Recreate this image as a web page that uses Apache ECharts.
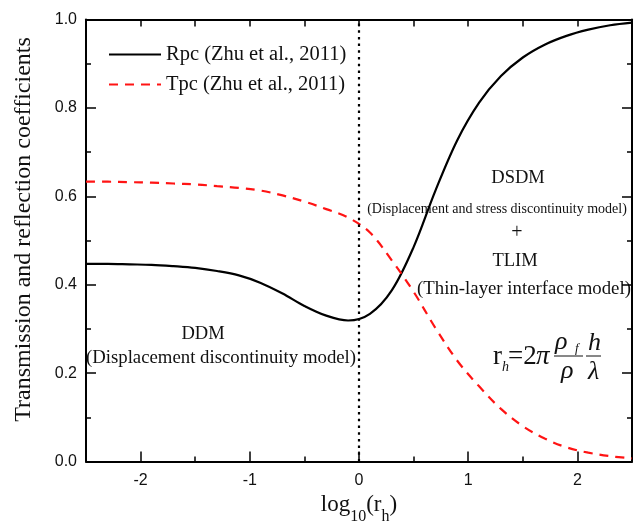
<!DOCTYPE html>
<html>
<head>
<meta charset="utf-8">
<script src="https://cdn.jsdelivr.net/npm/echarts@6/dist/echarts.min.js"></script>
<style>
  html, body { margin: 0; padding: 0; background: #fff; }
  #chart { width: 642px; height: 526px; }
</style>
</head>
<body>
<div id="chart"></div>
<script>
// log10(rh) sample points (evenly spaced, 0.2 apart)
const xVals = [-2.5, -2.3, -2.1, -1.9, -1.7, -1.5, -1.3, -1.1, -0.9, -0.7, -0.5, -0.3, -0.1,
  0.1, 0.3, 0.5, 0.7, 0.9, 1.1, 1.3, 1.5, 1.7, 1.9, 2.1, 2.3, 2.5]
const rpcVals = [0.447, 0.447, 0.446, 0.445, 0.442, 0.438, 0.431, 0.421, 0.404, 0.380, 0.352,
  0.330, 0.319, 0.334, 0.387, 0.485, 0.613, 0.727, 0.812, 0.872, 0.914, 0.943, 0.963,
  0.977, 0.987, 0.993]
const tpcVals = [0.633, 0.633, 0.632, 0.631, 0.629, 0.627, 0.623, 0.619, 0.613, 0.602, 0.588,
  0.571, 0.552, 0.518, 0.455, 0.384, 0.302, 0.228, 0.170, 0.119, 0.080, 0.052, 0.032,
  0.020, 0.012, 0.007]
const xMajorTicks = [-2, -1, 0, 1, 2]
const xMinorTicks = [-1.5, -0.5, 0.5, 1.5]
const boundaryX = 0

const serif = 'Liberation Serif'
const sans = 'Liberation Sans'

const chart = echarts.init(document.getElementById('chart'))

function pairs(ys) {
  return xVals.map(function(x, i) { return [x, ys[i]] })
}

const baseX = { type: 'value', min: -2.5, max: 2.5, splitLine: { show: false } }
const baseY = { type: 'value', min: 0, max: 1, interval: 0.2, splitLine: { show: false } }
const tickLine = { color: '#000', width: 1.5 }

chart.setOption({
  animation: false,
  grid: { left: 86, right: 10, top: 19.5, bottom: 64.5, outerBoundsMode: 'none' },
  legend: {
    orient: 'vertical',
    left: 108,
    top: 44,
    padding: 0,
    itemWidth: 52,
    itemHeight: 14,
    itemGap: 9,
    itemStyle: { opacity: 0 },
    textStyle: { fontFamily: serif, fontSize: 20.5, color: '#111', lineHeight: 20 },
    data: ['Rpc (Zhu et al., 2011)', 'Tpc (Zhu et al., 2011)']
  },
  xAxis: [
    Object.assign({}, baseX, {
      position: 'bottom',
      interval: 0.5,
      axisLine: { onZero: false, lineStyle: { color: '#000', width: 2 } },
      axisTick: { inside: true, length: 10, customValues: xMajorTicks, lineStyle: tickLine },
      axisLabel: { customValues: xMajorTicks, margin: 11, fontFamily: sans, fontSize: 16, color: '#111' },
      name: '{m|log}{s|10}{m|(r}{s|h}{m|)}',
      nameLocation: 'middle',
      nameGap: 27,
      nameTextStyle: {
        fontFamily: serif, fontSize: 23, color: '#111',
        rich: {
          m: { fontFamily: serif, fontSize: 23, lineHeight: 23, padding: [0, 0, 8, 0], verticalAlign: 'bottom', color: '#111' },
          s: { fontFamily: serif, fontSize: 16, lineHeight: 16, verticalAlign: 'bottom', color: '#111' }
        }
      }
    }),
    Object.assign({}, baseX, {
      position: 'bottom',
      interval: 0.5,
      axisLine: { show: false, onZero: false },
      axisTick: { inside: true, length: 5, customValues: xMinorTicks, lineStyle: tickLine },
      axisLabel: { show: false }
    }),
    Object.assign({}, baseX, {
      position: 'top',
      interval: 0.5,
      axisLine: { onZero: false, lineStyle: { color: '#000', width: 2 } },
      axisTick: { inside: true, length: 7, lineStyle: tickLine },
      axisLabel: { show: false }
    })
  ],
  yAxis: [
    Object.assign({}, baseY, {
      position: 'left',
      axisLine: { show: true, onZero: false, lineStyle: { color: '#000', width: 2 } },
      axisTick: { inside: true, length: 10, lineStyle: tickLine },
      minorTick: { show: true, splitNumber: 2, length: 5, lineStyle: tickLine },
      axisLabel: {
        margin: 9, fontFamily: sans, fontSize: 16, color: '#111',
        formatter: function(v) { return v.toFixed(1) }
      }
    }),
    Object.assign({}, baseY, {
      position: 'right',
      axisLine: { show: true, onZero: false, lineStyle: { color: '#000', width: 2 } },
      axisTick: { inside: true, length: 10, lineStyle: tickLine },
      minorTick: { show: true, splitNumber: 2, length: 5, lineStyle: tickLine },
      axisLabel: { show: false }
    })
  ],
  series: [
    {
      name: 'Rpc (Zhu et al., 2011)',
      type: 'line',
      xAxisIndex: 0,
      yAxisIndex: 0,
      data: pairs(rpcVals),
      smooth: 0.35,
      symbol: 'none',
      lineStyle: { color: '#000', width: 2.2 },
      itemStyle: { color: '#000' },
      markLine: {
        silent: true,
        symbol: 'none',
        label: { show: false },
        lineStyle: { color: '#000', width: 2.2, type: [2.5, 4.2] },
        data: [{ xAxis: boundaryX }]
      }
    },
    {
      name: 'Tpc (Zhu et al., 2011)',
      type: 'line',
      xAxisIndex: 0,
      yAxisIndex: 0,
      data: pairs(tpcVals),
      smooth: 0.35,
      symbol: 'none',
      lineStyle: { color: '#ff1414', width: 2.2, type: [9, 7] },
      itemStyle: { color: '#ff1414' }
    }
  ],
  graphic: [
    {
      type: 'text', x: 24, y: 229.5, rotation: Math.PI / 2,
      style: { text: 'Transmission and reflection coefficients', fontFamily: serif, fontSize: 24, fill: '#111', align: 'center', verticalAlign: 'middle' }
    },
    { type: 'text', x: 518, y: 178, style: { text: 'DSDM', fontFamily: serif, fontSize: 18.5, fill: '#111', align: 'center', verticalAlign: 'middle' } },
    { type: 'text', x: 497, y: 209, style: { text: '(Displacement and stress discontinuity model)', fontFamily: serif, fontSize: 14, fill: '#111', align: 'center', verticalAlign: 'middle' } },
    { type: 'text', x: 517, y: 233, style: { text: '+', fontFamily: serif, fontSize: 20, fill: '#111', align: 'center', verticalAlign: 'middle' } },
    { type: 'text', x: 515, y: 261, style: { text: 'TLIM', fontFamily: serif, fontSize: 18.5, fill: '#111', align: 'center', verticalAlign: 'middle' } },
    { type: 'text', x: 524, y: 289, style: { text: '(Thin-layer interface model)', fontFamily: serif, fontSize: 18.8, fill: '#111', align: 'center', verticalAlign: 'middle' } },
    { type: 'text', x: 203, y: 334, style: { text: 'DDM', fontFamily: serif, fontSize: 18.5, fill: '#111', align: 'center', verticalAlign: 'middle' } },
    { type: 'text', x: 221, y: 358, style: { text: '(Displacement discontinuity model)', fontFamily: serif, fontSize: 18.8, fill: '#111', align: 'center', verticalAlign: 'middle' } },
    // r_h = 2π (ρ_f / ρ)(h / λ)
    { type: 'text', x: 493, y: 357, style: { text: 'r', fontFamily: serif, fontSize: 27, fill: '#111', verticalAlign: 'middle' } },
    { type: 'text', x: 502, y: 367, style: { text: 'h', fontFamily: serif, fontStyle: 'italic', fontSize: 14, fill: '#111', verticalAlign: 'middle' } },
    { type: 'text', x: 508, y: 357, style: { text: '=2', fontFamily: serif, fontSize: 27, fill: '#111', verticalAlign: 'middle' } },
    { type: 'text', x: 536, y: 357, style: { text: 'π', fontFamily: serif, fontStyle: 'italic', fontSize: 27, fill: '#111', verticalAlign: 'middle' } },
    { type: 'line', shape: { x1: 554, y1: 356, x2: 583, y2: 356 }, style: { stroke: '#111', lineWidth: 1 } },
    { type: 'text', x: 555, y: 342, style: { text: 'ρ', fontFamily: serif, fontStyle: 'italic', fontSize: 26, fill: '#111', verticalAlign: 'middle' } },
    { type: 'text', x: 575, y: 349, style: { text: 'f', fontFamily: serif, fontStyle: 'italic', fontSize: 13, fill: '#111', verticalAlign: 'middle' } },
    { type: 'text', x: 561, y: 371, style: { text: 'ρ', fontFamily: serif, fontStyle: 'italic', fontSize: 26, fill: '#111', verticalAlign: 'middle' } },
    { type: 'line', shape: { x1: 586, y1: 356, x2: 601, y2: 356 }, style: { stroke: '#111', lineWidth: 1 } },
    { type: 'text', x: 588, y: 343, style: { text: 'h', fontFamily: serif, fontStyle: 'italic', fontSize: 26, fill: '#111', verticalAlign: 'middle' } },
    { type: 'text', x: 588, y: 372, style: { text: 'λ', fontFamily: serif, fontStyle: 'italic', fontSize: 26, fill: '#111', verticalAlign: 'middle' } }
  ]
})
</script>
</body>
</html>
